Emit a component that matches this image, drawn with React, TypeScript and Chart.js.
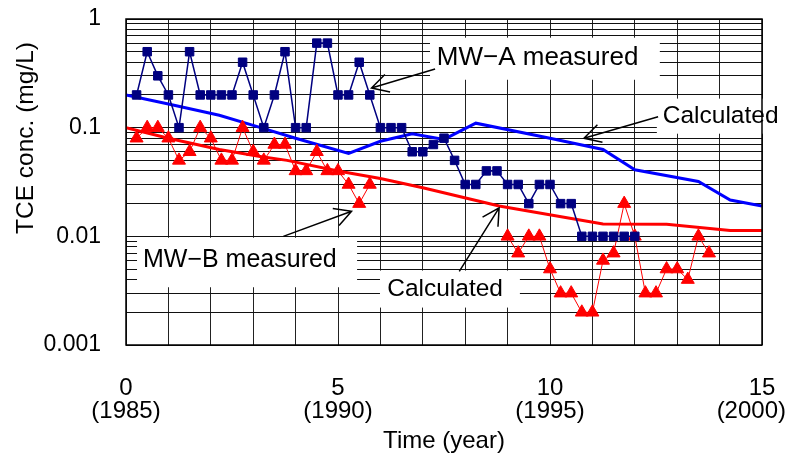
import React, { useEffect, useRef } from "react";
import { Chart, registerables } from "chart.js";

Chart.register(...registerables);

// ---------- data ----------
const mwAYears = [0.25, 0.5, 0.75, 1, 1.25, 1.5, 1.75, 2, 2.25, 2.5, 2.75, 3, 3.25, 3.5, 3.75, 4, 4.25, 4.5, 4.75, 5, 5.25, 5.5, 5.75, 6, 6.25, 6.5, 6.75, 7, 7.25, 7.5, 7.75, 8, 8.25, 8.5, 8.75, 9, 9.25, 9.5, 9.75, 10, 10.25, 10.5, 10.75, 11, 11.25, 11.5, 11.75, 12];
const mwAConc = [0.2, 0.5, 0.3, 0.2, 0.1, 0.5, 0.2, 0.2, 0.2, 0.2, 0.4, 0.2, 0.1, 0.2, 0.5, 0.1, 0.1, 0.6, 0.6, 0.2, 0.2, 0.4, 0.2, 0.1, 0.1, 0.1, 0.06, 0.06, 0.07, 0.08, 0.05, 0.03, 0.03, 0.04, 0.04, 0.03, 0.03, 0.02, 0.03, 0.03, 0.02, 0.02, 0.01, 0.01, 0.01, 0.01, 0.01, 0.01];

const mwBYears1 = [0.25, 0.5, 0.75, 1, 1.25, 1.5, 1.75, 2, 2.25, 2.5, 2.75, 3, 3.25, 3.5, 3.75, 4, 4.25, 4.5, 4.75, 5, 5.25, 5.5, 5.75];
const mwBConc1 = [0.08, 0.1, 0.1, 0.08, 0.05, 0.06, 0.1, 0.08, 0.05, 0.05, 0.1, 0.06, 0.05, 0.07, 0.07, 0.04, 0.04, 0.06, 0.04, 0.04, 0.03, 0.02, 0.03];
const mwBYears2 = [9, 9.25, 9.5, 9.75, 10, 10.25, 10.5, 10.75, 11, 11.25, 11.5, 11.75, 12, 12.25, 12.5, 12.75, 13, 13.25, 13.5, 13.75];
const mwBConc2 = [0.01, 0.007, 0.01, 0.01, 0.005, 0.003, 0.003, 0.002, 0.002, 0.006, 0.007, 0.02, 0.01, 0.003, 0.003, 0.005, 0.005, 0.004, 0.01, 0.007];

const calcAYears = [0, 1, 2.2, 3, 4, 5.25, 6, 6.75, 7.5, 8.25, 10, 11.25, 12, 13.5, 14.25, 15];
const calcAConc = [0.2, 0.165, 0.13, 0.105, 0.08, 0.058, 0.075, 0.088, 0.078, 0.11, 0.08, 0.063, 0.041, 0.032, 0.0216, 0.019];

const calcBYears = [0, 1, 2.2, 3.2, 3.8, 5, 6, 7, 8.8, 11.25, 12.75, 14.25, 15];
const calcBConc = [0.1, 0.08, 0.063, 0.054, 0.05, 0.04, 0.034, 0.028, 0.019, 0.013, 0.0129, 0.0113, 0.0113];

// ---------- axes ----------
const xTickValues = [0, 1, 2, 3, 4, 5, 6, 7, 8, 9, 10, 11, 12, 13, 14, 15];
const xLabelValues = [0, 5, 10, 15];
const xLabelYears = ["(1985)", "(1990)", "(1995)", "(2000)"];
const yDecades = [0.001, 0.01, 0.1];
const yMultipliers = [1, 2, 3, 4, 5, 6, 7, 8, 9];
const yLabelValues = [1, 0.1, 0.01, 0.001];
const yLabelTexts = ["1", "0.1", "0.01", "0.001"];
const xTitle = "Time (year)";
const yTitle = "TCE conc. (mg/L)";

// ---------- annotations (data coordinates) ----------
const annTexts = ["MW\u2212A measured", "Calculated", "MW\u2212B measured", "Calculated"];
const annFontSizes = [26, 24.5, 25, 24.5];
const annBoxes = [
  [7.17, 12.59, 0.673, 0.276],
  [12.52, 15.8, 0.185, 0.088],
  [0.26, 5.45, 0.0097, 0.0034],
  [5.99, 9.29, 0.00484, 0.00221],
];
const annTextPos = [
  [7.33, 0.44],
  [12.66, 0.127],
  [0.4, 0.0061],
  [6.16, 0.00323],
];
const annArrows = [
  [7.29, 0.347, 5.79, 0.232],
  [12.55, 0.126, 10.8, 0.08],
  [3.71, 0.01, 5.32, 0.017],
  [7.86, 0.00476, 8.8, 0.0183],
];

const FONT = "'Liberation Sans', Arial, sans-serif";

function drawArrow(ctx: CanvasRenderingContext2D, x1: number, y1: number, x2: number, y2: number) {
  ctx.save();
  ctx.strokeStyle = "#000";
  ctx.lineWidth = 1.5;
  ctx.beginPath();
  ctx.moveTo(x1, y1);
  ctx.lineTo(x2, y2);
  const ang = Math.atan2(y1 - y2, x1 - x2);
  const len = 19;
  const spread = 0.5;
  ctx.moveTo(x2 + Math.cos(ang + spread) * len, y2 + Math.sin(ang + spread) * len);
  ctx.lineTo(x2, y2);
  ctx.lineTo(x2 + Math.cos(ang - spread) * len, y2 + Math.sin(ang - spread) * len);
  ctx.stroke();
  ctx.restore();
}

const decorPlugin = {
  id: "decor",
  beforeDatasetsDraw(chart: any) {
    const { ctx, scales } = chart;
    const xs = scales.x;
    const ys = scales.y;
    ctx.save();
    ctx.fillStyle = "#fff";
    annBoxes.forEach(([x0, x1, y0, y1]) => {
      const px0 = xs.getPixelForValue(x0);
      const px1 = xs.getPixelForValue(x1);
      const py0 = ys.getPixelForValue(y0);
      const py1 = ys.getPixelForValue(y1);
      ctx.fillRect(px0, py0, px1 - px0, py1 - py0);
    });
    ctx.restore();
  },
  afterDatasetsDraw(chart: any) {
    const { ctx, scales, chartArea, width } = chart;
    const xs = scales.x;
    const ys = scales.y;
    const { left, right, top, bottom } = chartArea;
    ctx.save();
    // frame
    ctx.strokeStyle = "#000";
    ctx.lineWidth = 1.5;
    ctx.strokeRect(left, top, right - left, bottom - top);

    ctx.fillStyle = "#000";
    // annotation texts
    annTexts.forEach((t, i) => {
      ctx.font = `${annFontSizes[i]}px ${FONT}`;
      ctx.textAlign = "left";
      ctx.textBaseline = "middle";
      ctx.fillText(t, xs.getPixelForValue(annTextPos[i][0]), ys.getPixelForValue(annTextPos[i][1]));
    });
    annArrows.forEach(([ax, ay, bx, by]) => {
      drawArrow(ctx, xs.getPixelForValue(ax), ys.getPixelForValue(ay), xs.getPixelForValue(bx), ys.getPixelForValue(by));
    });

    // y tick labels
    ctx.font = `23px ${FONT}`;
    ctx.textAlign = "right";
    ctx.textBaseline = "middle";
    yLabelValues.forEach((v, i) => {
      ctx.fillText(yLabelTexts[i], left - 25, ys.getPixelForValue(v));
    });

    // x tick labels
    ctx.font = `24px ${FONT}`;
    ctx.textBaseline = "middle";
    xLabelValues.forEach((v, i) => {
      const px = xs.getPixelForValue(v);
      ctx.textAlign = "center";
      ctx.fillText(String(v), px, bottom + 43);
      const w = ctx.measureText(xLabelYears[i]).width;
      let cx = px;
      if (cx + w / 2 > width - 1) cx = width - 1 - w / 2;
      ctx.fillText(xLabelYears[i], cx, bottom + 66);
    });

    // titles
    ctx.font = `24px ${FONT}`;
    ctx.textAlign = "center";
    ctx.fillText(xTitle, (left + right) / 2, bottom + 96);
    ctx.save();
    ctx.translate(26, top + (bottom - top) * 0.365);
    ctx.rotate(-Math.PI / 2);
    ctx.font = `24.5px ${FONT}`;
    ctx.fillText(yTitle, 0, 0);
    ctx.restore();

    ctx.restore();
  },
};

export default function App() {
  const canvasRef = useRef<HTMLCanvasElement | null>(null);

  useEffect(() => {
    const canvas = canvasRef.current;
    if (!canvas) return;

    const mwAData = mwAYears.map((x, i) => ({ x, y: mwAConc[i] }));
    const mwBData = [
      ...mwBYears1.map((x, i) => ({ x, y: mwBConc1[i] as number | null })),
      { x: 7.4, y: null },
      ...mwBYears2.map((x, i) => ({ x, y: mwBConc2[i] as number | null })),
    ];
    const calcAData = calcAYears.map((x, i) => ({ x, y: calcAConc[i] }));
    const calcBData = calcBYears.map((x, i) => ({ x, y: calcBConc[i] }));
    const yGridValues: number[] = [];
    yDecades.forEach((d) => yMultipliers.forEach((m) => yGridValues.push(+(d * m).toPrecision(3))));
    yGridValues.push(1);

    const chart = new Chart(canvas, {
      type: "line",
      data: {
        datasets: [
          {
            label: "MW-A measured",
            data: mwAData,
            borderColor: "#000080",
            backgroundColor: "#000080",
            borderWidth: 1.5,
            pointStyle: "rect",
            pointRadius: 6,
            pointBorderWidth: 1,
            pointBorderColor: "#000080",
            pointBackgroundColor: "#000080",
            tension: 0,
            order: 1,
          },
          {
            label: "MW-B measured",
            data: mwBData as any,
            borderColor: "#FF0000",
            backgroundColor: "#FF0000",
            borderWidth: 1,
            pointStyle: "triangle",
            pointRadius: 7.5,
            pointBorderWidth: 1,
            pointBorderColor: "#FF0000",
            pointBackgroundColor: "#FF0000",
            spanGaps: false,
            tension: 0,
            order: 2,
          },
          {
            label: "Calculated A",
            data: calcAData,
            borderColor: "#0000FF",
            borderWidth: 3,
            pointRadius: 0,
            tension: 0,
            order: 3,
          },
          {
            label: "Calculated B",
            data: calcBData,
            borderColor: "#FF0000",
            borderWidth: 3,
            pointRadius: 0,
            tension: 0,
            order: 4,
          },
        ],
      },
      options: {
        responsive: false,
        devicePixelRatio: 1,
        animation: false,
        events: [],
        layout: { padding: { left: 126, top: 19, right: 25, bottom: 109 } },
        plugins: {
          legend: { display: false },
          tooltip: { enabled: false },
          title: { display: false },
        },
        scales: {
          x: {
            type: "linear",
            min: 0,
            max: 15,
            afterBuildTicks: (s: any) => {
              s.ticks = xTickValues.map((v) => ({ value: v }));
            },
            afterFit: (s: any) => {
              s.height = 0;
            },
            ticks: { display: false },
            grid: { color: "#222", lineWidth: 1, drawTicks: false },
            border: { display: false },
          },
          y: {
            type: "logarithmic",
            min: 0.001,
            max: 1,
            afterBuildTicks: (s: any) => {
              s.ticks = yGridValues.map((v) => ({ value: v }));
            },
            afterFit: (s: any) => {
              s.width = 0;
            },
            ticks: { display: false },
            grid: { color: "#111", lineWidth: 1, drawTicks: false },
            border: { display: false },
          },
        },
      },
      plugins: [decorPlugin],
    });

    return () => chart.destroy();
  }, []);

  return (
    <div style={{ position: "fixed", left: 0, top: 0, width: 787, height: 454, background: "#fff" }}>
      <canvas ref={canvasRef} width={787} height={454} style={{ display: "block" }} />
    </div>
  );
}
